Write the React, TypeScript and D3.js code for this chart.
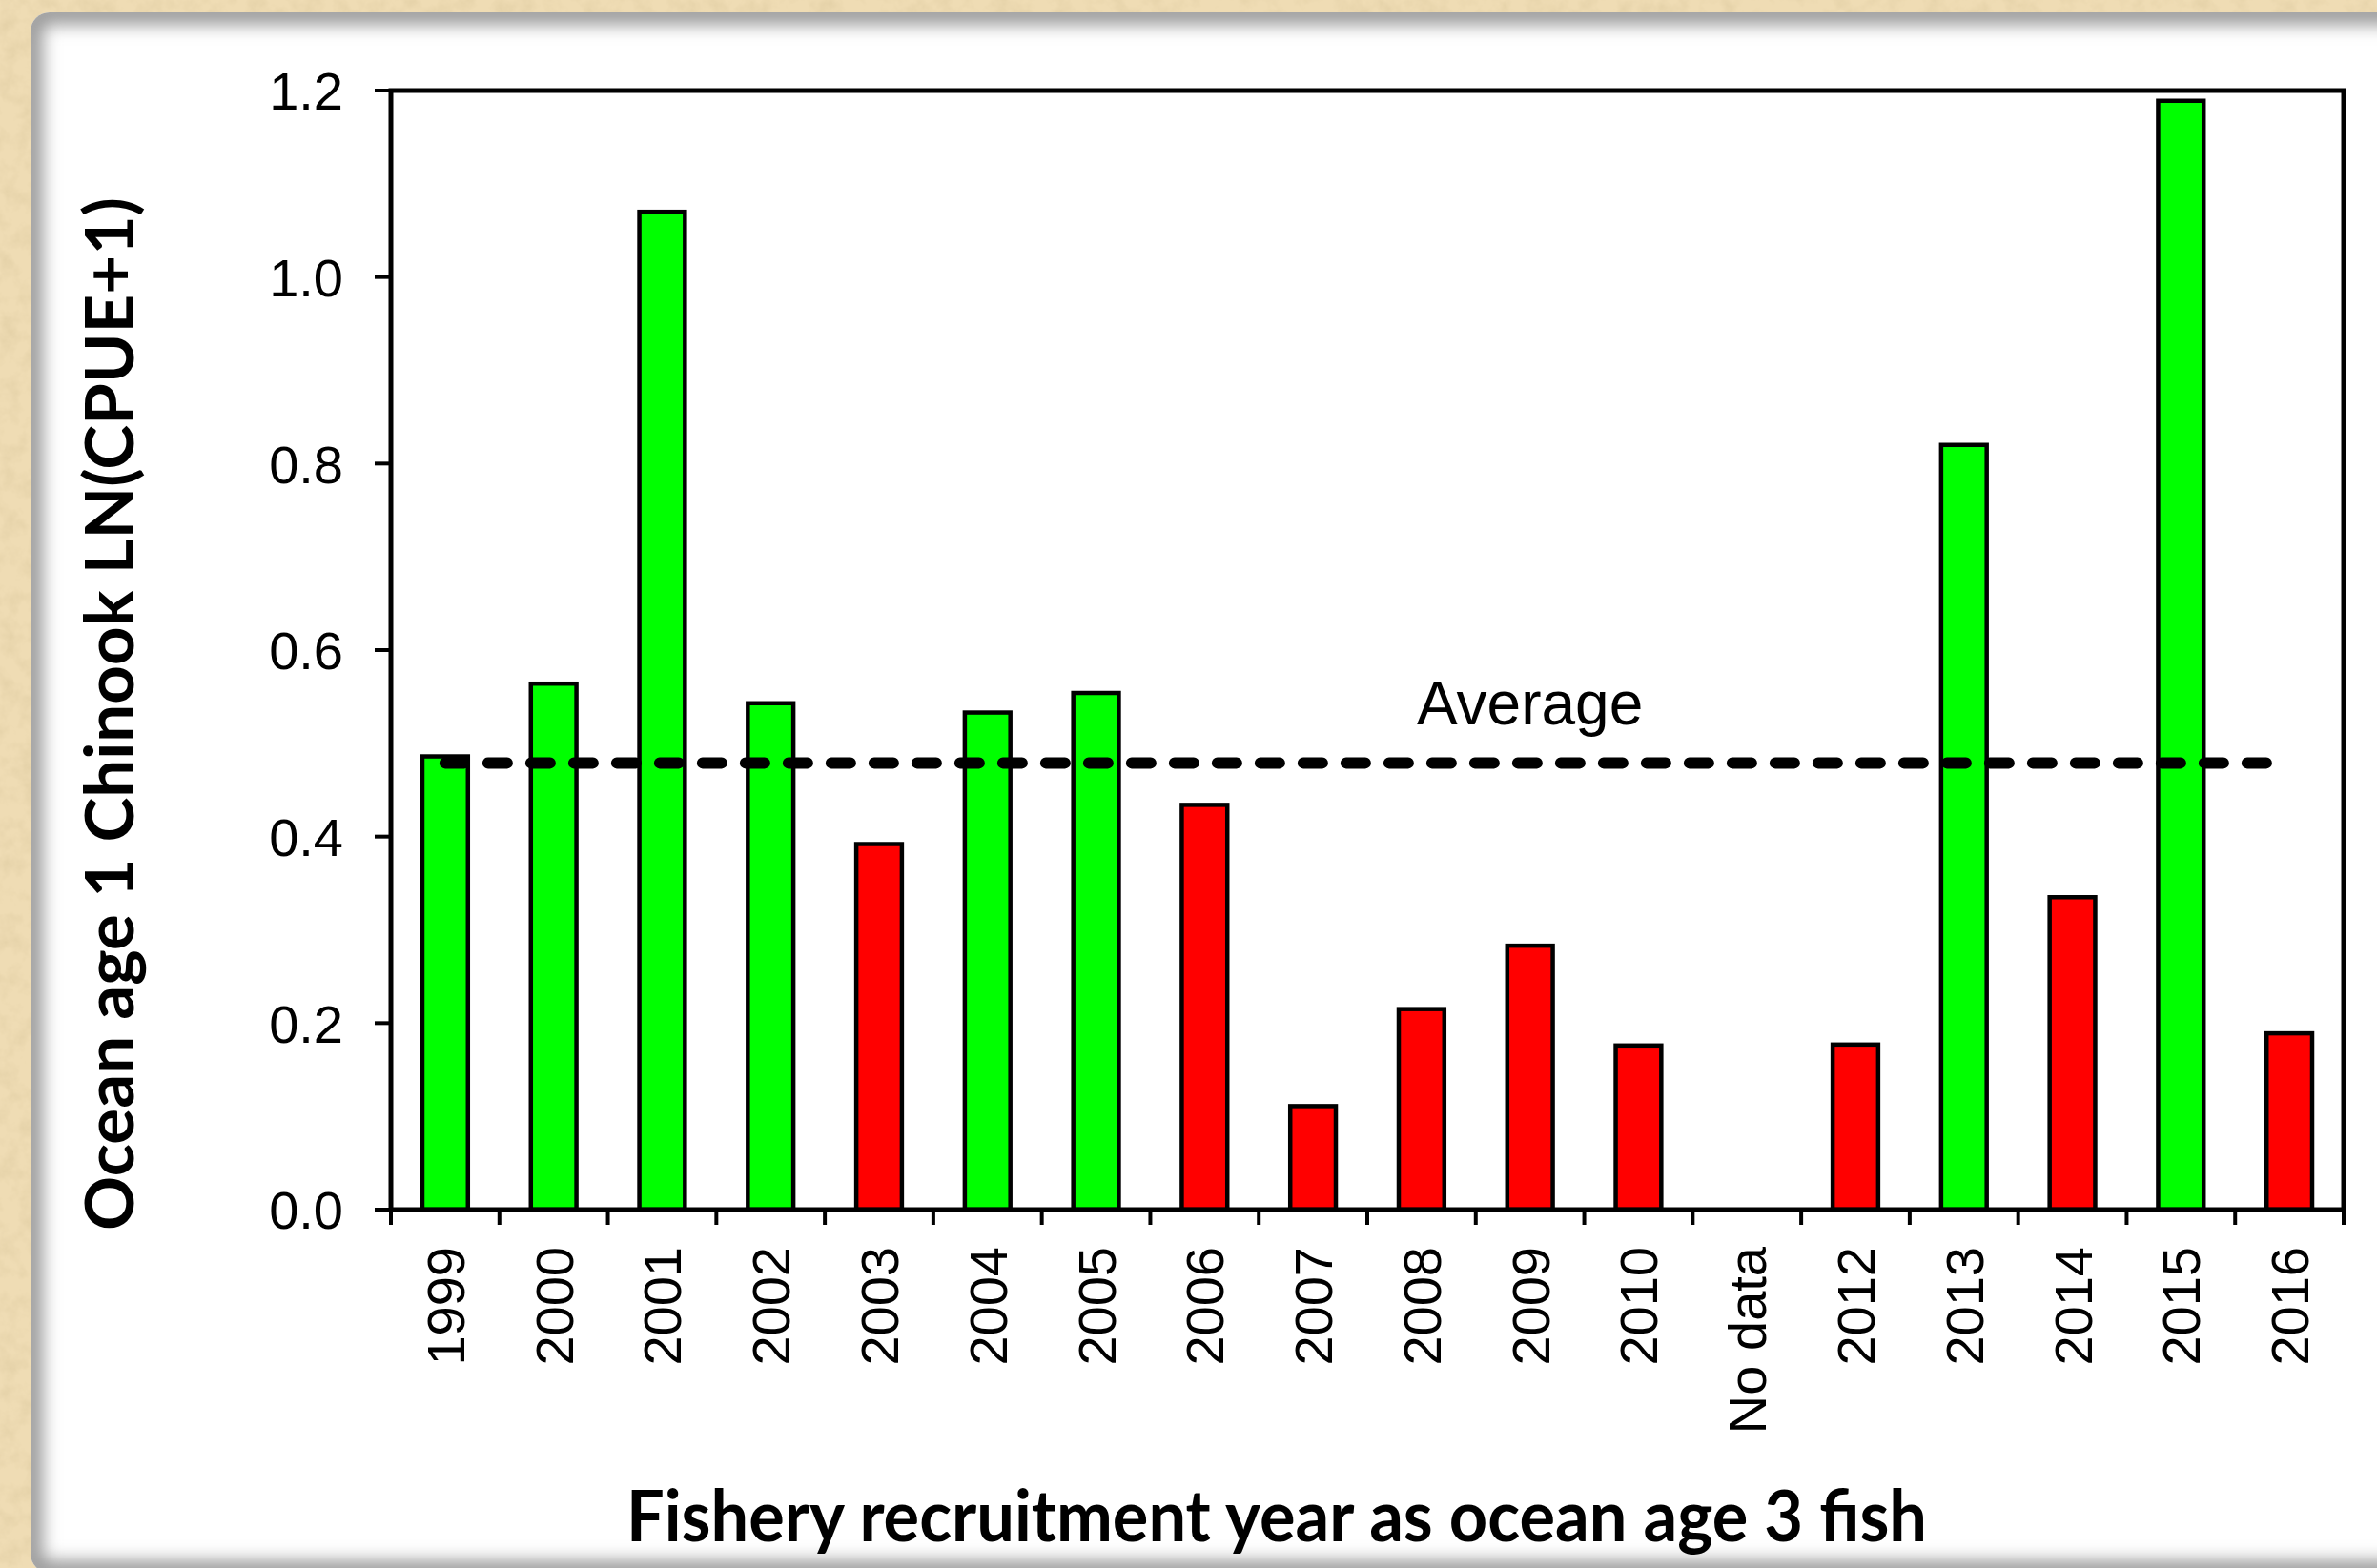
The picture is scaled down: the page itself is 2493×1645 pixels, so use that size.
import * as d3 from "d3";

const categories = [
  "1999", "2000", "2001", "2002", "2003", "2004", "2005", "2006", "2007",
  "2008", "2009", "2010", "No data", "2012", "2013", "2014", "2015", "2016",
];
const values: (number | null)[] = [
  0.486, 0.564, 1.07, 0.543, 0.392, 0.533, 0.554, 0.434, 0.111,
  0.215, 0.283, 0.176, null, 0.177, 0.82, 0.335, 1.189, 0.189,
];
const average = 0.479;
const yTicks = [0, 0.2, 0.4, 0.6, 0.8, 1.0, 1.2];

const W = 2493;
const H = 1645;
const PLOT = { left: 410, top: 95, right: 2458, bottom: 1269 };
const TICK = 16;
const GREEN = "#00ff00";
const RED = "#ff0000";

export default function App() {
  const x = d3
    .scaleBand<string>()
    .domain(categories)
    .range([PLOT.left, PLOT.right])
    .paddingInner(0)
    .paddingOuter(0);
  const y = d3.scaleLinear().domain([0, 1.2]).range([PLOT.bottom, PLOT.top]);

  const bw = x.bandwidth();
  const barW = bw * 0.42;
  const boundaries = d3.range(categories.length + 1).map((i) => PLOT.left + i * bw);

  const avgLine = d3.line<number>()([
    [x(categories[0])! + bw / 2, y(average)],
    [x(categories[categories.length - 1])! + bw / 2, y(average)],
  ] as any);

  return (
    <svg
      width={W}
      height={H}
      style={{ position: "absolute", left: 0, top: 0 }}
      fontFamily="'Liberation Sans', Arial, sans-serif"
    >
      <defs>
        <filter id="paper" x="0" y="0" width="100%" height="100%">
          <feTurbulence type="fractalNoise" baseFrequency="0.05" numOctaves="4" seed="3" />
          <feColorMatrix
            type="matrix"
            values="0 0 0 0 0.6  0 0 0 0 0.48  0 0 0 0 0.26  0 0 0 0.6 -0.25"
          />
        </filter>
        <clipPath id="panelClip">
          <rect x={32} y={13} width={2600} height={1637} rx={20} />
        </clipPath>
        <filter id="blur" x="-5%" y="-5%" width="110%" height="110%">
          <feGaussianBlur stdDeviation="9" />
        </filter>
      </defs>

      {/* parchment background */}
      <rect width={W} height={H} fill="#efdcb4" />
      <rect width={W} height={H} filter="url(#paper)" />

      {/* white panel with inner shadow */}
      <g clipPath="url(#panelClip)">
        <rect x={32} y={13} width={2600} height={1637} fill="#ffffff" />
        <rect
          x={32}
          y={13}
          width={2600}
          height={1637}
          rx={20}
          fill="none"
          stroke="#9a9a9a"
          strokeWidth={26}
          filter="url(#blur)"
        />
      </g>

      {/* bars */}
      {categories.map((c, i) => {
        const v = values[i];
        if (v == null) return null;
        return (
          <rect
            key={c}
            x={x(c)! + (bw - barW) / 2}
            y={y(v)}
            width={barW}
            height={y(0) - y(v)}
            fill={v >= average ? GREEN : RED}
            stroke="#000"
            strokeWidth={4.5}
          />
        );
      })}

      {/* average line */}
      <path
        d={avgLine ?? undefined}
        stroke="#000"
        strokeWidth={12}
        strokeDasharray="20 25"
        strokeLinecap="round"
        fill="none"
      />
      <text
        x={x("2009")! + bw / 2}
        y={y(average) - 40}
        fontSize={64}
        textAnchor="middle"
      >
        Average
      </text>

      {/* plot frame */}
      <rect
        x={PLOT.left}
        y={PLOT.top}
        width={PLOT.right - PLOT.left}
        height={PLOT.bottom - PLOT.top}
        fill="none"
        stroke="#000"
        strokeWidth={5}
      />

      {/* y axis ticks */}
      {yTicks.map((t) => (
        <g key={t} transform={`translate(0, ${y(t)})`}>
          <line x1={PLOT.left - TICK - 1} x2={PLOT.left} stroke="#000" strokeWidth={4} />
          <text x={360} dy="0.36em" fontSize={56} textAnchor="end">
            {d3.format(".1f")(t)}
          </text>
        </g>
      ))}

      {/* x axis ticks */}
      {boundaries.map((b, i) => (
        <line
          key={i}
          x1={b}
          x2={b}
          y1={PLOT.bottom}
          y2={PLOT.bottom + TICK}
          stroke="#000"
          strokeWidth={4}
        />
      ))}
      {categories.map((c) => (
        <text
          key={c}
          transform={`translate(${x(c)! + bw / 2 + 20}, 1308) rotate(-90)`}
          fontSize={56}
          textAnchor="end"
        >
          {c}
        </text>
      ))}

      {/* axis titles */}
      <text
        transform={`translate(140, 749) rotate(-90)`}
        fontFamily="Lato, 'Open Sans', sans-serif"
        fontWeight={700}
        fontSize={70}
        textAnchor="middle"
        textLength={1084}
        lengthAdjust="spacingAndGlyphs"
      >
        Ocean age 1 Chinook LN(CPUE+1)
      </text>
      <text
        x={1339}
        y={1617}
        fontFamily="Lato, 'Open Sans', sans-serif"
        fontWeight={700}
        fontSize={75}
        textAnchor="middle"
        textLength={1364}
        lengthAdjust="spacingAndGlyphs"
      >
        Fishery recruitment year as ocean age 3 fish
      </text>
    </svg>
  );
}
